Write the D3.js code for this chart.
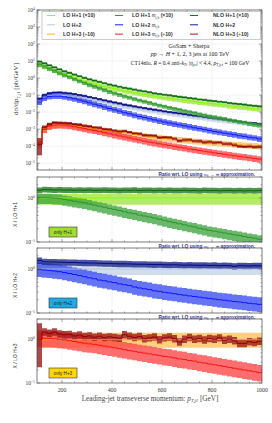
<!DOCTYPE html>
<html><head><meta charset="utf-8">
<script src="https://cdn.jsdelivr.net/npm/d3@7"></script>
<style>body{margin:0;background:#fff;} svg{display:block;}</style>
</head><body><svg id="c" width="272" height="423"></svg>
<script>
// ---------------- DATA ----------------
const binEdges = [100,120,140,160,180,200,220,240,260,280,300,320,340,360,380,400,420,440,460,480,500,520,540,560,580,600,620,640,660,680,700,720,740,760,780,800,820,840,860,880,900,920,940,960,980,1000];
// physical LO cross sections [pb/GeV] (m_t -> infinity)
const loH1 = [0.62,0.48,0.36,0.28,0.21,0.166,0.135,0.107,0.085,0.069,0.056,0.048,0.040,0.033,0.028,0.024,0.021,0.018,0.016,0.0138,0.0123,0.0110,0.0098,0.0087,0.0078,0.0071,0.0065,0.0059,0.0054,0.0049,0.0045,0.0042,0.0038,0.0035,0.0032,0.0030,0.0028,0.0026,0.0023,0.0022,0.0020,0.0019,0.0017,0.0016,0.0015];
const loH2 = [0.040,0.071,0.089,0.098,0.100,0.095,0.089,0.081,0.072,0.065,0.056,0.049,0.043,0.037,0.032,0.028,0.025,0.021,0.019,0.017,0.015,0.0135,0.012,0.011,0.0098,0.0089,0.0081,0.0074,0.0068,0.0062,0.0056,0.0051,0.0047,0.0043,0.0039,0.0035,0.0033,0.0030,0.0028,0.0026,0.0023,0.0022,0.0020,0.0019,0.0017];
const loH3 = [0.00126,0.0089,0.0138,0.0162,0.0174,0.0174,0.0166,0.0155,0.0141,0.0129,0.0117,0.0107,0.0098,0.0087,0.0079,0.0071,0.0065,0.0059,0.0054,0.0049,0.0045,0.0041,0.0037,0.0035,0.0032,0.00295,0.00275,0.00257,0.00240,0.00224,0.00209,0.00195,0.00186,0.00174,0.00166,0.00155,0.00148,0.00141,0.00132,0.00126,0.00120,0.00115,0.00110,0.00105,0.00100];
// ratios to LO (m_t -> infinity)
const mtRatioH1 = [1.02,1.02,1.01,0.99,0.97,0.93,0.89,0.85,0.81,0.78,0.73,0.69,0.65,0.62,0.58,0.55,0.52,0.49,0.46,0.44,0.41,0.39,0.37,0.35,0.33,0.31,0.29,0.275,0.26,0.245,0.23,0.22,0.205,0.195,0.184,0.176,0.168,0.160,0.153,0.146,0.140,0.133,0.127,0.122,0.116];
const mtRatioH2 = [0.98,0.95,0.93,0.90,0.87,0.83,0.79,0.75,0.71,0.67,0.63,0.60,0.56,0.54,0.51,0.49,0.46,0.44,0.42,0.39,0.37,0.355,0.34,0.32,0.31,0.295,0.285,0.275,0.263,0.254,0.245,0.237,0.229,0.221,0.214,0.207,0.200,0.195,0.188,0.182,0.178,0.172,0.166,0.162,0.157];
const mtRatioH3 = [1.10,1.07,1.07,1.05,1.02,0.99,0.95,0.91,0.87,0.83,0.80,0.78,0.74,0.71,0.68,0.65,0.62,0.59,0.56,0.54,0.51,0.49,0.47,0.45,0.43,0.41,0.40,0.38,0.36,0.35,0.33,0.32,0.30,0.29,0.275,0.263,0.251,0.240,0.229,0.219,0.209,0.200,0.191,0.182,0.174];
const nloRatioH1 = [1.50,1.55,1.54,1.52,1.53,1.51,1.52,1.50,1.51,1.50,1.52,1.49,1.50,1.51,1.49,1.50,1.48,1.50,1.49,1.51,1.48,1.49,1.50,1.47,1.49,1.48,1.50,1.47,1.48,1.49,1.47,1.48,1.46,1.49,1.47,1.48,1.46,1.47,1.48,1.46,1.47,1.45,1.47,1.46,1.47];
const nloRatioH2 = [1.55,1.46,1.45,1.44,1.43,1.42,1.41,1.41,1.39,1.38,1.37,1.37,1.35,1.34,1.34,1.32,1.31,1.31,1.30,1.29,1.28,1.28,1.27,1.26,1.27,1.25,1.24,1.25,1.23,1.22,1.23,1.22,1.21,1.22,1.20,1.21,1.19,1.20,1.19,1.15,1.19,1.18,1.17,1.19,1.18];
const nloRatioH3 = [1.00,1.50,1.40,1.50,1.35,1.30,1.32,1.22,1.28,1.18,1.22,1.14,1.20,1.12,1.16,1.12,1.08,1.30,1.20,1.12,1.18,1.05,1.10,1.15,1.00,1.10,1.15,1.05,0.88,1.02,1.12,1.02,1.06,0.98,1.06,1.02,1.10,0.97,1.02,0.94,0.82,0.82,0.90,0.86,0.92];
// scale-uncertainty band factors per multiplicity
const loBandUp = [1.23,1.37,1.45], loBandDown = [0.70,0.73,0.65];
const mtBandUp = [1.23,1.45,1.50], mtBandDown = [0.72,0.67,0.62];
const nloBandUp = [1.16,1.17,1.22], nloBandDown = [0.86,0.84,0.82];
const nloH3FirstBinBand = [0.23,2.4];
const plotScale = [10,1,0.1];
const legendLO = ["LO H+1 (×10)","LO H+2","LO H+3 (÷10)"];
const legendMT = ["LO H+1 ","LO H+2 ","LO H+3 "];
const legendMTsuffix = [" (×10)",""," (÷10)"];
const legendNLO = ["NLO H+1 (×10)","NLO H+2","NLO H+3 (÷10)"];
const onlyLabels = ["only H+1","only H+2","only H+3"];
const ratioYLabels = ["X / LO H+1","X / LO H+2","X / LO H+3"];
const xTicks = [200,400,600,800,1000];
const mainYTicks = [-5,-4,-3,-2,-1,0,1,2,3,4];

// ---------------- STYLE ----------------
const col = {
  lo:['#7fff00','#b0c4de','#ffa500'],
  loBand:['#a8e64a','#c9d7ea','#ffc66a'],
  mt:['#228b22','#0000ff','#ff0000'],
  mtBand:['#45a845','#3e50f5','#ff4a4a'],
  nlo:['#006400','#000080','#8b0000'],
  nloBand:['#237a23','#202c8c','#9e1a1a'],
  only:['#a0dc32','#1eaae6','#ffd700']
};
const SERIF = "'Liberation Serif','DejaVu Serif',serif";
const SANS = "'Liberation Sans','DejaVu Sans',sans-serif";

const lo=[loH1,loH2,loH3], mt=[mtRatioH1,mtRatioH2,mtRatioH3], nlo=[nloRatioH1,nloRatioH2,nloRatioH3];

const svg = d3.select('#c');
const X0=37, X1=262;
const x = d3.scaleLinear().domain([100,1000]).range([X0,X1]);
const yMain = d3.scaleLog().domain([4e-6,1e4]).range([170,10]);
const panels=[{top:177,bottom:242},{top:248,bottom:313},{top:319,bottom:383}];
panels.forEach(p=>p.y=d3.scaleLog().domain([0.1,3]).range([p.bottom,p.top]));

const defs = svg.append('defs');
function clip(id,top,bottom){ defs.append('clipPath').attr('id',id).append('rect').attr('x',X0).attr('y',top).attr('width',X1-X0).attr('height',bottom-top); }

function band(g,y,lo,hi,color,op){
  const pts=lo.map((d,i)=>({x:binEdges[i],lo:d,hi:hi[i]}));
  pts.push({x:binEdges[lo.length],lo:lo[lo.length-1],hi:hi[hi.length-1]});
  g.append('path').attr('d',d3.area().curve(d3.curveStepAfter).x(d=>x(d.x)).y0(d=>y(d.lo)).y1(d=>y(d.hi))(pts))
   .attr('fill',color).attr('fill-opacity',op);
}
function line(g,y,vals,color,w){
  const pts=vals.map((d,i)=>[binEdges[i],d]); pts.push([binEdges[vals.length],vals[vals.length-1]]);
  g.append('path').attr('d',d3.line().curve(d3.curveStepAfter).x(d=>x(d[0])).y(d=>y(d[1]))(pts))
   .attr('fill','none').attr('stroke',color).attr('stroke-width',w);
}
function frameAxes(top,bottom,y,decades){
  const g=svg.append('g');
  xTicks.forEach(t=>{ if(t<1000) g.append('line').attr('x1',x(t)).attr('x2',x(t)).attr('y1',top).attr('y2',bottom).attr('stroke','#c8c8c8').attr('stroke-width',0.5).attr('stroke-dasharray','1,1.5');});
  decades.forEach(e=>{ const yy=y(Math.pow(10,e)); if(yy>top+0.5&&yy<bottom-0.5) g.append('line').attr('x1',X0).attr('x2',X1).attr('y1',yy).attr('y2',yy).attr('stroke','#c8c8c8').attr('stroke-width',0.5).attr('stroke-dasharray','1,1.5');});
  return g;
}
function ticks(top,bottom,y,decades){
  const g=svg.append('g').attr('stroke','#555').attr('stroke-width',0.5);
  for(let v=150; v<1000; v+=50){ const L=(v%200===0)?3:1.5; g.append('line').attr('x1',x(v)).attr('x2',x(v)).attr('y1',bottom).attr('y2',bottom-L); g.append('line').attr('x1',x(v)).attr('x2',x(v)).attr('y1',top).attr('y2',top+L);}
  const [d0,d1]=y.domain();
  for(let e=Math.floor(Math.log10(d0)); e<=Math.ceil(Math.log10(d1)); e++){
    for(let m=1;m<10;m++){ const v=m*Math.pow(10,e); if(v<d0||v>d1) continue; const yy=y(v); const L=m===1?3:1.5;
      g.append('line').attr('x1',X0).attr('x2',X0+L).attr('y1',yy).attr('y2',yy);
      g.append('line').attr('x1',X1).attr('x2',X1-L).attr('y1',yy).attr('y2',yy);}
  }
  svg.append('rect').attr('x',X0).attr('y',top).attr('width',X1-X0).attr('height',bottom-top).attr('fill','none').attr('stroke','#444').attr('stroke-width',0.7);
  decades.forEach(e=>{
    const t=svg.append('text').attr('x',X0-2).attr('y',y(Math.pow(10,e))+1.8).attr('text-anchor','end').attr('font-family',SERIF).attr('font-size',5.5).attr('fill','#333');
    t.append('tspan').text('10');
    t.append('tspan').attr('dy',-2.2).attr('font-size',3.8).text(e<0?('\u2212'+(-e)):String(e));
  });
}

// ---------------- MAIN PANEL ----------------
clip('cm',10,170);
frameAxes(10,170,yMain,mainYTicks);
const gm=svg.append('g').attr('clip-path','url(#cm)');
[2,1,0].forEach(k=>{
  const s=plotScale[k];
  const c=lo[k].map(v=>v*s), cm=c.map((v,i)=>v*mt[k][i]), cn=c.map((v,i)=>v*nlo[k][i]);
  band(gm,yMain,c.map(v=>v*loBandDown[k]),c.map(v=>v*loBandUp[k]),col.loBand[k],0.85);
  band(gm,yMain,cm.map(v=>v*mtBandDown[k]),cm.map(v=>v*mtBandUp[k]),col.mtBand[k],0.8);
  const nd=cn.map((v,i)=> (k===2&&i===0)? c[i]*nloH3FirstBinBand[0] : v*nloBandDown[k]);
  const nu=cn.map((v,i)=> (k===2&&i===0)? c[i]*nloH3FirstBinBand[1] : v*nloBandUp[k]);
  band(gm,yMain,nd,nu,col.nloBand[k],0.8);
  line(gm,yMain,c,col.lo[k],0.8);
  line(gm,yMain,cm,col.mt[k],0.8);
  line(gm,yMain,cn,col.nlo[k],0.9);
});
ticks(10,170,yMain,mainYTicks);

// legend
const lg=svg.append('g');
lg.append('rect').attr('x',42).attr('y',11.5).attr('width',218.5).attr('height',28).attr('fill','#fff').attr('stroke','#999').attr('stroke-width',0.5);
const rowsY=[15.5,24.8,34.1];
const colsX=[[47,55,63],[115,123,132],[190,198,213]];
function legLine(cx,yy,color){ lg.append('line').attr('x1',cx[0]).attr('x2',cx[1]).attr('y1',yy).attr('y2',yy).attr('stroke',color).attr('stroke-width',0.9); }
function legText(xx,yy){ return lg.append('text').attr('x',xx).attr('y',yy+1.9).attr('font-family',SANS).attr('font-size',5.2).attr('font-weight','bold').attr('fill','#333'); }
rowsY.forEach((yy,k)=>{
  legLine(colsX[0],yy,col.lo[k]); legText(colsX[0][2],yy).text(legendLO[k]);
  legLine(colsX[1],yy,col.mt[k]);
  const t=legText(colsX[1][2],yy); t.append('tspan').text(legendMT[k]);
  t.append('tspan').attr('font-family',SERIF).attr('font-style','italic').attr('font-weight','normal').text('m');
  t.append('tspan').attr('font-family',SERIF).attr('font-weight','normal').attr('font-size',3.6).attr('dy',1.2).text('t,b');
  t.append('tspan').attr('dy',-1.2).text(legendMTsuffix[k]);
  legLine(colsX[2],yy,col.nlo[k]); legText(colsX[2][2],yy).text(legendNLO[k]);
});

// annotations
const an=svg.append('g').attr('font-family',SERIF).attr('fill','#222').attr('text-anchor','middle');
an.append('text').attr('x',189).attr('y',48).attr('font-size',6).text('GoSam + Sherpa');
const a2=an.append('text').attr('x',190).attr('y',55.8).attr('font-size',6);
a2.append('tspan').attr('font-style','italic').text('pp');
a2.append('tspan').text(' \u2192 ');
a2.append('tspan').attr('font-style','italic').text('H');
a2.append('tspan').text(' + 1, 2, 3 jets at 100 TeV');
const a3=an.append('text').attr('x',190).attr('y',64.8).attr('font-size',5.6);
a3.append('tspan').text('CT14nlo, ');
a3.append('tspan').attr('font-style','italic').text('R');
a3.append('tspan').text(' = 0.4 anti-');
a3.append('tspan').attr('font-style','italic').text('k');
a3.append('tspan').attr('font-size',3.8).attr('dy',1).attr('font-style','italic').text('T');
a3.append('tspan').attr('dy',-1).text(', |');
a3.append('tspan').attr('font-style','italic').text('\u03b7');
a3.append('tspan').attr('font-size',3.8).attr('dy',1).text('jet');
a3.append('tspan').attr('dy',-1).text('| < 4.4, ');
a3.append('tspan').attr('font-style','italic').text('p');
a3.append('tspan').attr('font-size',3.8).attr('dy',1).text('T,jet');
a3.append('tspan').attr('dy',-1).text(' = 100 GeV');

// y label main
const yl=svg.append('text').attr('transform','translate(18,89) rotate(-90)').attr('text-anchor','middle').attr('font-family',SERIF).attr('font-size',7).attr('fill','#333');
yl.append('tspan').text('d\u03c3/d');
yl.append('tspan').attr('font-style','italic').text('p');
yl.append('tspan').attr('font-size',4.6).attr('dy',1.5).text('T,j1');
yl.append('tspan').attr('dy',-1.5).text(' [pb/GeV]');

// ---------------- RATIO PANELS ----------------
const prevBottoms=[170,242,313];
panels.forEach((p,k)=>{
  const rt=svg.append('text').attr('x',255).attr('y',prevBottoms[k]+5.8).attr('text-anchor','end').attr('font-family',SANS).attr('font-size',4.8).attr('font-weight','bold').attr('fill','#32329a');
  rt.append('tspan').text('Ratio wrt. LO using ');
  rt.append('tspan').attr('font-family',SERIF).attr('font-style','italic').attr('font-weight','normal').text('m');
  rt.append('tspan').attr('font-size',3.3).attr('dy',1).text('t');
  rt.append('tspan').attr('dy',-1).text(' \u2192 \u221e approximation.');

  const id='cr'+k; clip(id,p.top,p.bottom);
  frameAxes(p.top,p.bottom,p.y,[-1,0]);
  const g=svg.append('g').attr('clip-path','url(#'+id+')');
  const ones=lo[k].map(()=>1);
  band(g,p.y,ones.map(()=>loBandDown[k]),ones.map(()=>loBandUp[k]),col.loBand[k],0.85);
  band(g,p.y,mt[k].map(v=>v*mtBandDown[k]),mt[k].map(v=>v*mtBandUp[k]),col.mtBand[k],0.8);
  const nd=nlo[k].map((v,i)=>(k===2&&i===0)?nloH3FirstBinBand[0]:v*nloBandDown[k]);
  const nu=nlo[k].map((v,i)=>(k===2&&i===0)?nloH3FirstBinBand[1]:v*nloBandUp[k]);
  band(g,p.y,nd,nu,col.nloBand[k],0.8);
  line(g,p.y,ones,col.lo[k],0.8);
  line(g,p.y,mt[k],col.mt[k],0.8);
  line(g,p.y,nlo[k],col.nlo[k],0.9);
  ticks(p.top,p.bottom,p.y,[-1,0]);

  const by=p.bottom-15;
  svg.append('rect').attr('x',49).attr('y',by).attr('width',28).attr('height',10).attr('fill',col.only[k]).attr('stroke','#333').attr('stroke-width',0.6);
  svg.append('text').attr('x',63).attr('y',by+6.6).attr('text-anchor','middle').attr('font-family',SANS).attr('font-size',4.6).attr('fill','#222').text(onlyLabels[k]);

  svg.append('text').attr('transform',`translate(16.5,${(p.top+p.bottom)/2+5}) rotate(-90)`).attr('text-anchor','middle').attr('font-family',SANS).attr('font-size',5).attr('fill','#333').text(ratioYLabels[k]);
});

// x tick labels & title
xTicks.forEach(t=>svg.append('text').attr('x',x(t)).attr('y',392).attr('text-anchor','middle').attr('font-family',SERIF).attr('font-size',5.8).attr('fill','#333').text(t));
const xt=svg.append('text').attr('x',150).attr('y',400.5).attr('text-anchor','middle').attr('font-family',SERIF).attr('font-size',7.2).attr('fill','#444');
xt.append('tspan').text('Leading-jet transeverse momentum:  ');
xt.append('tspan').attr('font-style','italic').text('p');
xt.append('tspan').attr('font-size',4.8).attr('dy',1.5).attr('font-style','italic').text('T,j1');
xt.append('tspan').attr('dy',-1.5).text(' [GeV]');
</script></body></html>
